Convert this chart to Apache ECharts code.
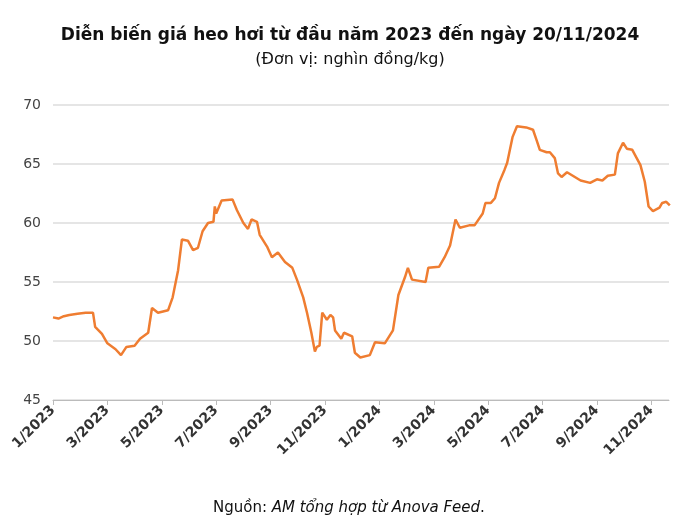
<!DOCTYPE html>
<html>
<head>
<meta charset="utf-8">
<script src="https://cdn.jsdelivr.net/npm/echarts@6/dist/echarts.min.js"></script>
<style>
  html, body { margin: 0; padding: 0; background: #fff; }
  #chart { width: 700px; height: 532px; }
</style>
</head>
<body>
<div id="chart"></div>
<script>
// months since 1/2023, price in thousand VND/kg
var months = [0, 0.2, 0.4, 0.6, 0.9, 1.2, 1.47, 1.55, 1.8, 2.0, 2.3, 2.5, 2.7, 3.0, 3.2, 3.5, 3.64, 3.86, 4.23, 4.4, 4.6, 4.74, 4.96, 5.15, 5.33, 5.5, 5.7, 5.9, 5.95, 6.0, 6.2, 6.6, 6.76, 7.0, 7.17, 7.3, 7.5, 7.6, 7.87, 8.05, 8.27, 8.53, 8.8, 8.97, 9.2, 9.34, 9.5, 9.63, 9.7, 9.8, 9.9, 10.07, 10.2, 10.3, 10.37, 10.6, 10.7, 11.0, 11.1, 11.3, 11.65, 11.84, 12.2, 12.5, 12.7, 12.94, 13.05, 13.2, 13.7, 13.8, 14.2, 14.4, 14.6, 14.8, 14.96, 15.3, 15.5, 15.8, 15.9, 16.1, 16.25, 16.4, 16.6, 16.7, 16.9, 17.06, 17.4, 17.65, 17.8, 17.9, 18.15, 18.27, 18.45, 18.57, 18.7, 18.9, 19.4, 19.75, 20.0, 20.2, 20.4, 20.66, 20.77, 20.96, 21.1, 21.3, 21.6, 21.76, 21.9, 22.06, 22.3, 22.4, 22.55, 22.68];
var prices = [52.0, 51.9, 52.1, 52.2, 52.3, 52.4, 52.4, 51.2, 50.6, 49.8, 49.3, 48.8, 49.5, 49.6, 50.2, 50.7, 52.8, 52.4, 52.6, 53.7, 56.0, 58.6, 58.5, 57.7, 57.9, 59.3, 60.0, 60.1, 61.4, 60.8, 61.9, 62.0, 61.1, 60.0, 59.5, 60.3, 60.1, 59.0, 58.0, 57.1, 57.5, 56.7, 56.2, 55.2, 53.7, 52.4, 50.7, 49.1, 49.5, 49.6, 52.4, 51.8, 52.2, 52.0, 50.9, 50.2, 50.7, 50.4, 49.0, 48.6, 48.8, 49.9, 49.8, 50.9, 53.9, 55.4, 56.2, 55.2, 55.0, 56.2, 56.3, 57.1, 58.1, 60.3, 59.6, 59.8, 59.8, 60.8, 61.7, 61.7, 62.1, 63.4, 64.5, 65.1, 67.3, 68.2, 68.1, 67.9, 66.9, 66.2, 66.0, 66.0, 65.5, 64.2, 63.9, 64.3, 63.6, 63.4, 63.7, 63.6, 64.0, 64.1, 65.9, 66.8, 66.3, 66.2, 64.9, 63.5, 61.4, 61.0, 61.3, 61.7, 61.8, 61.5];
var endMonth = 22.65;
var title = 'Diễn biến giá heo hơi từ đầu năm 2023 đến ngày 20/11/2024';
var subtitle = '(Đơn vị: nghìn đồng/kg)';
var source = 'AM tổng hợp từ Anova Feed';

var chart = echarts.init(document.getElementById('chart'));
var seriesData = months.map(function (m, i) { return [m, prices[i]]; });

chart.setOption({
  animation: false,
  textStyle: { fontFamily: 'DejaVu Sans' },
  title: [{
    text: title,
    left: 'center', top: 22,
    textStyle: { fontSize: 17, fontWeight: 'bold', color: '#111' }
  }, {
    text: subtitle,
    left: 'center', top: 47,
    textStyle: { fontSize: 16, fontWeight: 'normal', color: '#111' }
  }, {
    text: '{a|Nguồn: }{b|' + source + '}{a|.}',
    left: 208, top: 496,
    textStyle: {
      fontWeight: 'normal',
      rich: {
        a: { fontSize: 15, color: '#111', fontWeight: 'normal' },
        b: { fontSize: 15, color: '#111', fontWeight: 'normal', fontStyle: 'italic' }
      }
    }
  }],
  grid: { left: 53, right: 31, top: 105, bottom: 132 },
  xAxis: {
    type: 'value', min: 0, max: endMonth, interval: 2,
    axisLine: { lineStyle: { color: '#bbb' } },
    axisTick: { show: true, length: 5, lineStyle: { color: '#bbb' } },
    splitLine: { show: false },
    axisLabel: {
      rotate: 45, fontSize: 14, fontWeight: 'bold', color: '#333', margin: 8,
      showMaxLabel: false,
      formatter: function (v) {
        var y = 2023 + Math.floor(v / 12);
        var m = Math.round(v % 12) + 1;
        return m + '/' + y;
      }
    }
  },
  yAxis: {
    type: 'value', min: 45, max: 70, interval: 5,
    axisLine: { show: false },
    axisTick: { show: false },
    splitLine: { lineStyle: { color: '#ddd', width: 1.5 } },
    axisLabel: { fontSize: 14, color: '#444', margin: 12 }
  },
  series: [{
    type: 'line',
    data: seriesData,
    showSymbol: false,
    lineStyle: { color: '#ef7d31', width: 2.5 },
    itemStyle: { color: '#ef7d31' }
  }]
});
</script>
</body>
</html>
